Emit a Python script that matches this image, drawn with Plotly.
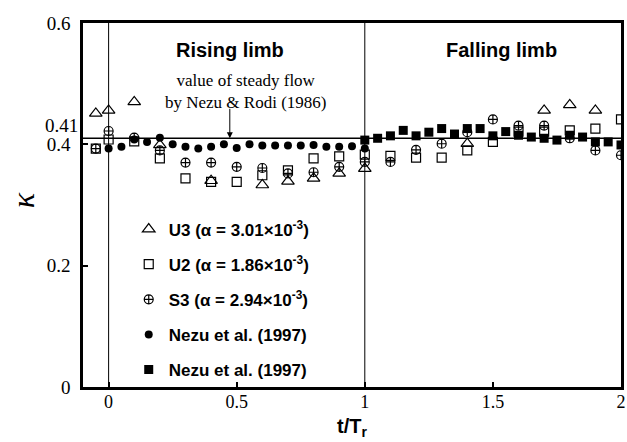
import plotly.graph_objects as go

# ---------------- data ----------------
t_u3 = [-0.05, 0.0, 0.1, 0.2, 0.4, 0.6, 0.7, 0.8, 0.9, 1.0, 1.4, 1.7, 1.8, 1.9]
k_u3 = [0.451, 0.456, 0.470, 0.399, 0.340, 0.333, 0.339, 0.344, 0.352, 0.360, 0.401, 0.456, 0.465, 0.456]

t_u2 = [-0.05, 0.0, 0.1, 0.2, 0.3, 0.4, 0.5, 0.6, 0.7, 0.8, 0.9, 1.0, 1.1, 1.2, 1.3, 1.4, 1.5, 1.6, 1.7, 1.8, 1.9, 2.0]
k_u2 = [0.393, 0.408, 0.405, 0.377, 0.344, 0.338, 0.338, 0.349, 0.357, 0.377, 0.380, 0.383, 0.381, 0.378, 0.378, 0.390, 0.404, 0.421, 0.421, 0.423, 0.426, 0.441]

t_s3 = [-0.05, 0.0, 0.1, 0.2, 0.3, 0.4, 0.5, 0.6, 0.7, 0.8, 0.9, 1.0, 1.1, 1.2, 1.3, 1.4, 1.5, 1.6, 1.7, 1.8, 1.9, 2.0]
k_s3 = [0.393, 0.422, 0.411, 0.390, 0.370, 0.370, 0.363, 0.361, 0.352, 0.354, 0.363, 0.371, 0.371, 0.391, 0.401, 0.420, 0.441, 0.431, 0.431, 0.410, 0.390, 0.382]

t_nc = [0.0, 0.05, 0.1, 0.15, 0.2, 0.25, 0.3, 0.35, 0.4, 0.45, 0.5, 0.55, 0.6, 0.65, 0.7, 0.75, 0.8, 0.85, 0.9, 0.95, 1.0]
k_nc = [0.393, 0.396, 0.408, 0.404, 0.411, 0.400, 0.396, 0.393, 0.396, 0.400, 0.394, 0.400, 0.398, 0.398, 0.398, 0.398, 0.399, 0.396, 0.396, 0.397, 0.393]

t_ns = [1.0, 1.05, 1.1, 1.15, 1.2, 1.25, 1.3, 1.35, 1.4, 1.45, 1.5, 1.55, 1.6, 1.65, 1.7, 1.75, 1.8, 1.85, 1.9, 1.95, 2.0]
k_ns = [0.407, 0.410, 0.414, 0.423, 0.414, 0.420, 0.426, 0.417, 0.426, 0.426, 0.414, 0.421, 0.415, 0.412, 0.410, 0.407, 0.415, 0.412, 0.404, 0.404, 0.399]

names = ["U3 (α = 3.01×10<sup>-3</sup>)", "U2 (α = 1.86×10<sup>-3</sup>)",
         "S3 (α = 2.94×10<sup>-3</sup>)", "Nezu et al. (1997)", "Nezu et al. (1997)"]

x_ticks = [0, 0.5, 1, 1.5, 2]
x_tick_text = ["0", "0.5", "1", "1.5", "2"]
y_ticks = [0, 0.2, 0.4, 0.6]
y_tick_text = ["0", "0.2", "0.4", "0.6"]
steady_value = 0.41
limb_split = 1.0
start_time = 0.0

SERIF = "Liberation Serif"
SANS = "Liberation Sans"

fig = go.Figure()
open_line = dict(color="black", width=1.2)
fig.add_trace(go.Scatter(x=t_u3, y=k_u3, mode="markers", name=names[0], legendgroup="a",
                         marker=dict(symbol="triangle-up-open", size=11, color="black", line=open_line)))
fig.add_trace(go.Scatter(x=t_u2, y=k_u2, mode="markers", name=names[1], legendgroup="b",
                         marker=dict(symbol="square-open", size=9, color="black", line=open_line)))
fig.add_trace(go.Scatter(x=t_s3, y=k_s3, mode="markers", name=names[2], legendgroup="c",
                         marker=dict(symbol="circle-cross-open", size=9, color="black", line=open_line)))
fig.add_trace(go.Scatter(x=t_nc, y=k_nc, mode="markers", name=names[3], legendgroup="d",
                         marker=dict(symbol="circle", size=8, color="black")))
fig.add_trace(go.Scatter(x=t_ns, y=k_ns, mode="markers", name=names[4], legendgroup="e",
                         marker=dict(symbol="square", size=9, color="black")))

# reference lines
fig.add_shape(type="line", xref="x", yref="paper", x0=start_time, x1=start_time, y0=0, y1=1,
              line=dict(color="black", width=1), layer="below")
fig.add_shape(type="line", xref="x", yref="paper", x0=limb_split, x1=limb_split, y0=0, y1=1,
              line=dict(color="black", width=1), layer="below")
fig.add_shape(type="line", xref="paper", yref="y", x0=0, x1=1, y0=steady_value, y1=steady_value,
              line=dict(color="black", width=1.3), layer="below")

# annotations
fig.add_annotation(x=0, xref="paper", y=steady_value, yref="y", text="0.41", showarrow=False,
                   xanchor="right", xshift=-3, yshift=13, font=dict(family=SERIF, size=19, color="black"))
fig.add_annotation(x=0, xref="paper", y=0.308, yref="y", text="<i>κ</i>", showarrow=False,
                   textangle=-90, xanchor="center", yanchor="middle", xshift=-60,
                   font=dict(family=SERIF, size=32, color="black"))
fig.add_annotation(x=0.472, y=0.555, text="<b>Rising limb</b>", showarrow=False,
                   font=dict(family=SANS, size=20, color="black"))
fig.add_annotation(x=1.535, y=0.555, text="<b>Falling limb</b>", showarrow=False,
                   font=dict(family=SANS, size=20, color="black"))
fig.add_annotation(x=0.535, y=0.487, text="value of steady flow<br>by Nezu &amp; Rodi (1986)",
                   showarrow=False, font=dict(family=SERIF, size=17, color="black"))
fig.add_annotation(x=0.473, y=steady_value, text="", showarrow=True, ax=0, ay=-31,
                   arrowhead=2, arrowsize=1.2, arrowwidth=1, arrowcolor="black")

fig.update_layout(
    width=627, height=442,
    margin=dict(l=83, r=1, t=23, b=55),
    paper_bgcolor="white", plot_bgcolor="white",
    showlegend=True,
    legend=dict(x=0.085, y=0.482, xanchor="left", yanchor="top", traceorder="grouped",
                tracegroupgap=10, bgcolor="rgba(0,0,0,0)",
                font=dict(family=SANS, size=17, color="black", weight="bold")),
    xaxis=dict(range=[-0.1, 2.0], tickvals=x_ticks, ticktext=x_tick_text, ticks="inside",
               ticklen=5, tickwidth=1.5, tickcolor="black", showgrid=False, zeroline=False,
               showline=True, linewidth=2.5, linecolor="black", mirror=True,
               ticklabeloverflow="allow", ticklabelstandoff=-3,
               tickfont=dict(family=SERIF, size=18, color="black"),
               title=dict(text="<b>t/T<sub>r</sub></b>", font=dict(family=SANS, size=20, color="black"),
                          standoff=8)),
    yaxis=dict(range=[0, 0.6], tickvals=y_ticks, ticktext=y_tick_text, ticks="inside",
               ticklen=5, tickwidth=1.5, tickcolor="black", showgrid=False, zeroline=False,
               showline=True, linewidth=2.5, linecolor="black", mirror=True,
               ticklabelstandoff=6,
               tickfont=dict(family=SERIF, size=19, color="black")),
)

fig.write_html("out.html")
